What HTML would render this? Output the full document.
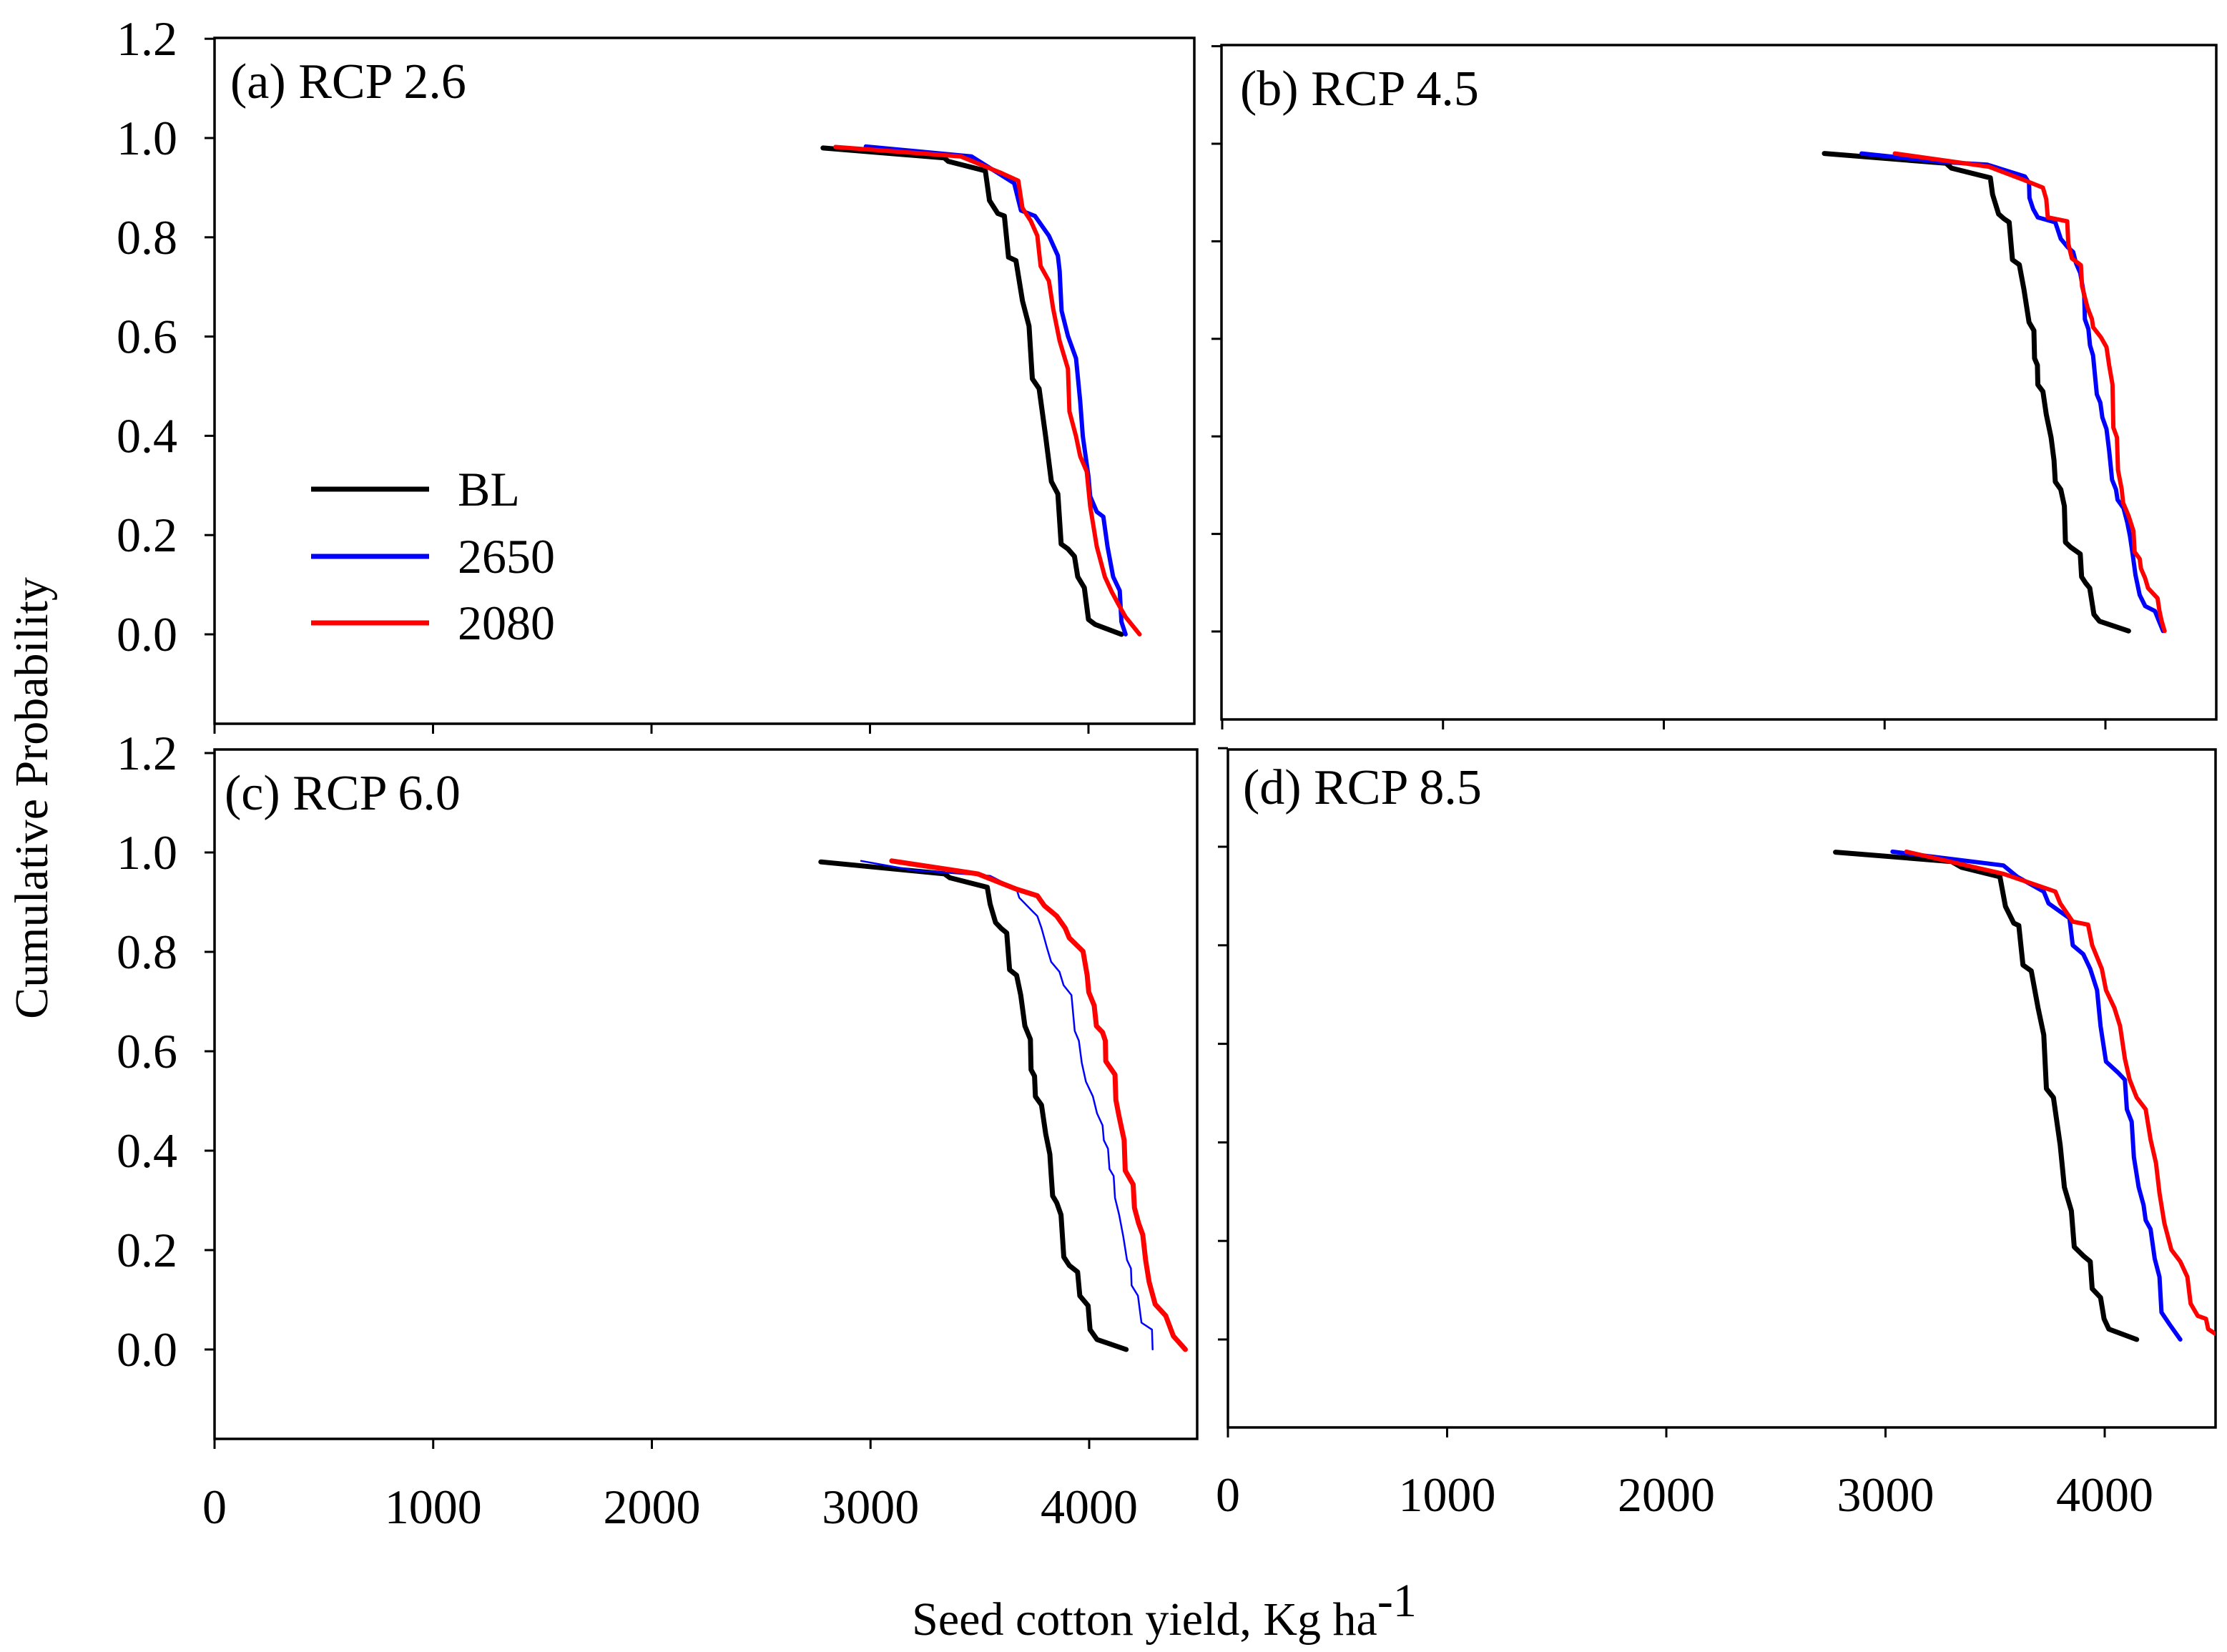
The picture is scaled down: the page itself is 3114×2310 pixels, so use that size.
<!DOCTYPE html>
<html><head><meta charset="utf-8"><style>
html,body{margin:0;padding:0;background:#fff;}
svg{display:block;font-family:"Liberation Serif",serif;}
</style></head><body>
<svg id="chart" width="3114" height="2310" viewBox="0 0 3114 2310" xmlns="http://www.w3.org/2000/svg">
<rect x="0" y="0" width="3114" height="2310" fill="#fff"/>
<text x="0" y="0" font-size="66" text-anchor="middle" transform="translate(66,1116) rotate(-90)">Cumulative Probability</text>
<text x="1628" y="2286" font-size="66" text-anchor="middle">Seed cotton yield, Kg ha<tspan dy="-26" font-size="66">-1</tspan></text>
</svg>
<script>
const yTicks = [0, 0.2, 0.4, 0.6, 0.8, 1.0, 1.2];
const yTickLabels = ["0.0","0.2","0.4","0.6","0.8","1.0","1.2"];
const xTicks = [0, 1000, 2000, 3000, 4000];
const xTickLabels = ["0","1000","2000","3000","4000"];
const seriesNames = ["BL","2650","2080"];

const aBLx = [2785,3340,3358,3528,3547,3585,3615,3634,3668,3698,3728,3743,3774,3804,3830,3860,3875,3906,3936,3951,3981,4000,4030,4151];
const aBLy = [0.98,0.96,0.953,0.934,0.874,0.848,0.843,0.76,0.753,0.672,0.621,0.515,0.495,0.399,0.308,0.283,0.182,0.172,0.157,0.116,0.094,0.03,0.02,0.0];
const a2650x = [2981,3464,3660,3691,3755,3819,3860,3868,3877,3906,3943,3962,3974,4000,4008,4038,4068,4087,4113,4143,4151,4170];
const a2650y = [0.983,0.963,0.909,0.854,0.843,0.803,0.763,0.732,0.652,0.601,0.556,0.47,0.399,0.318,0.278,0.247,0.237,0.177,0.116,0.088,0.025,0.0];
const a2080x = [2842,3415,3604,3679,3698,3736,3766,3781,3819,3838,3868,3906,3913,3943,3962,3992,4008,4038,4075,4106,4140,4170,4234];
const a2080y = [0.982,0.963,0.929,0.914,0.859,0.833,0.803,0.742,0.712,0.657,0.591,0.535,0.449,0.399,0.359,0.328,0.258,0.177,0.116,0.086,0.058,0.035,0.0];

const bBLx = [2727,3278,3303,3479,3489,3516,3541,3564,3579,3610,3631,3654,3676,3679,3692,3694,3717,3732,3754,3767,3773,3798,3814,3819,3842,3886,3892,3911,3929,3948,3973,4105];
const bBLy = [0.98,0.96,0.95,0.93,0.896,0.856,0.846,0.839,0.762,0.752,0.701,0.634,0.617,0.56,0.546,0.506,0.492,0.445,0.398,0.351,0.307,0.291,0.257,0.183,0.173,0.159,0.112,0.099,0.089,0.035,0.021,0.001];
const b2650x = [2896,3253,3466,3635,3654,3656,3673,3694,3773,3798,3829,3854,3867,3886,3904,3907,3923,3930,3944,3954,3961,3977,3986,4005,4017,4030,4048,4055,4082,4099,4111,4124,4136,4155,4180,4224,4243,4261];
const b2650y = [0.98,0.963,0.957,0.933,0.92,0.889,0.866,0.849,0.839,0.805,0.788,0.778,0.755,0.735,0.688,0.64,0.62,0.587,0.566,0.519,0.486,0.469,0.439,0.415,0.371,0.311,0.291,0.27,0.253,0.223,0.196,0.156,0.116,0.075,0.052,0.042,0.021,0.001];
const b2080x = [3046,3472,3629,3717,3732,3739,3827,3832,3848,3889,3894,3919,3939,3944,3980,4005,4017,4032,4036,4052,4057,4074,4080,4105,4127,4132,4155,4161,4180,4193,4236,4245,4255,4268];
const b2080y = [0.98,0.953,0.926,0.91,0.886,0.849,0.841,0.795,0.765,0.751,0.708,0.664,0.64,0.624,0.603,0.583,0.546,0.506,0.418,0.398,0.331,0.291,0.264,0.237,0.206,0.163,0.149,0.129,0.109,0.089,0.068,0.042,0.021,0.001];

const cBLx = [2773,3338,3363,3534,3547,3572,3598,3623,3636,3668,3687,3706,3731,3734,3750,3754,3782,3801,3820,3826,3833,3852,3871,3884,3909,3947,3957,3995,4004,4036,4169];
const cBLy = [0.981,0.957,0.949,0.93,0.896,0.859,0.847,0.838,0.764,0.753,0.713,0.651,0.624,0.563,0.55,0.509,0.492,0.434,0.393,0.353,0.309,0.295,0.271,0.186,0.169,0.156,0.108,0.088,0.04,0.02,0.0];
const c2650x = [2957,3198,3325,3547,3668,3680,3731,3763,3782,3807,3826,3864,3883,3919,3934,3953,3966,3985,4017,4036,4061,4067,4086,4093,4112,4118,4137,4156,4173,4191,4194,4223,4239,4287,4290];
const c2650y = [0.983,0.964,0.96,0.953,0.926,0.909,0.886,0.872,0.848,0.808,0.78,0.76,0.733,0.713,0.641,0.621,0.577,0.539,0.509,0.475,0.451,0.421,0.404,0.363,0.349,0.305,0.271,0.227,0.18,0.163,0.129,0.108,0.054,0.04,0.0];
const c2080x = [3097,3490,3668,3763,3795,3852,3890,3909,3972,3991,3998,4023,4033,4061,4074,4076,4118,4122,4137,4160,4165,4201,4207,4226,4245,4258,4274,4302,4350,4385,4440];
const c2080y = [0.983,0.957,0.926,0.913,0.893,0.872,0.848,0.828,0.801,0.753,0.719,0.692,0.651,0.638,0.621,0.58,0.553,0.502,0.468,0.421,0.36,0.332,0.285,0.254,0.231,0.18,0.136,0.091,0.068,0.027,0.0];

const dBLx = [2772,3301,3348,3522,3547,3585,3608,3627,3665,3696,3722,3734,3766,3797,3816,3848,3861,3902,3934,3943,3981,3997,4019,4146];
const dBLy = [0.989,0.97,0.958,0.939,0.879,0.845,0.84,0.76,0.748,0.673,0.618,0.509,0.491,0.394,0.309,0.261,0.188,0.17,0.158,0.103,0.085,0.042,0.021,0.0];
const d2650x = [3032,3538,3601,3722,3744,3839,3854,3902,3934,3965,3981,4006,4060,4092,4101,4123,4133,4155,4177,4187,4209,4228,4250,4259,4297,4345];
const d2650y = [0.99,0.962,0.939,0.909,0.885,0.855,0.8,0.782,0.752,0.709,0.636,0.564,0.542,0.527,0.467,0.442,0.37,0.309,0.273,0.242,0.224,0.164,0.127,0.055,0.03,0.0];
const d2080x = [3095,3538,3775,3797,3854,3924,3943,3987,4006,4044,4070,4092,4114,4146,4187,4209,4234,4250,4272,4304,4345,4377,4392,4424,4462,4472,4503];
const d2080y = [0.99,0.945,0.909,0.885,0.848,0.842,0.8,0.752,0.709,0.673,0.636,0.57,0.527,0.491,0.467,0.406,0.358,0.297,0.236,0.182,0.158,0.127,0.073,0.048,0.042,0.021,0.012];

const NS = "http://www.w3.org/2000/svg";
const svg = document.getElementById("chart");
const colors = ["#000000","#0000ff","#ff0000"];

const panels = [
  {id:"a", title:"(a) RCP 2.6", L:300, R:1670, T:53, B:1012, y1:193, y0:887, x0:300, x4:1522, tx:322, ty:137, yLab:true, xLab:false, xLabY:0,
   series:[[aBLx,aBLy,7],[a2650x,a2650y,6],[a2080x,a2080y,6]]},
  {id:"b", title:"(b) RCP 4.5", L:1708, R:3099, T:63, B:1006, y1:201, y0:883, x0:1709, x4:2944, tx:1734, ty:147, yLab:false, xLab:false, xLabY:0,
   series:[[bBLx,bBLy,7],[b2650x,b2650y,6],[b2080x,b2080y,6]]},
  {id:"c", title:"(c) RCP 6.0", L:300, R:1674, T:1048, B:2012, y1:1192, y0:1887, x0:300, x4:1523, tx:314, ty:1132, yLab:true, xLab:true, xLabY:2130,
   series:[[cBLx,cBLy,7],[c2650x,c2650y,2.5],[c2080x,c2080y,7]]},
  {id:"d", title:"(d) RCP 8.5", L:1717, R:3098, T:1048, B:1996, y1:1184, y0:1873, x0:1717, x4:2943, tx:1738, ty:1124, yLab:false, xLab:true, xLabY:2113,
   series:[[dBLx,dBLy,7],[d2650x,d2650y,6],[d2080x,d2080y,6]]}
];

function mk(tag, attrs){ const e=document.createElementNS(NS,tag); for(const k in attrs) e.setAttribute(k,attrs[k]); return e; }

panels.forEach(p=>{
  const g = mk("g",{});
  
  
  svg.appendChild(g);
  const sx = v => p.x0 + (p.x4-p.x0)*v/4000;
  const sy = v => p.y0 + (p.y1-p.y0)*v;
  const cp = mk("clipPath",{id:"clip-"+p.id});
  cp.appendChild(mk("rect",{x:p.L,y:p.T,width:p.R-p.L,height:p.B-p.T}));
  g.appendChild(cp);
  const frame = mk("rect",{x:p.L,y:p.T,width:p.R-p.L,height:p.B-p.T,fill:"none",stroke:"#000","stroke-width":3.5});
  
  
  g.appendChild(frame);
  yTicks.forEach((t,i)=>{
    const y = sy(t);
    if (y < p.T-2) return;
    const tk = mk("line",{x1:p.L-14,x2:p.L,y1:y,y2:y,stroke:"#000","stroke-width":3});
    
    
    g.appendChild(tk);
    if (p.yLab){
      const tl = mk("text",{x:p.L-52,y:y+23,"font-size":68,"text-anchor":"end"});
      tl.textContent = yTickLabels[i];
      
      
      g.appendChild(tl);
    }
  });
  xTicks.forEach((t,i)=>{
    const x = sx(t);
    const tk = mk("line",{x1:x,x2:x,y1:p.B,y2:p.B+14,stroke:"#000","stroke-width":3});
    
    
    g.appendChild(tk);
    if (p.xLab){
      const tl = mk("text",{x:x,y:p.xLabY,"font-size":68,"text-anchor":"middle"});
      tl.textContent = xTickLabels[i];
      
      
      g.appendChild(tl);
    }
  });
  const title = mk("text",{x:p.tx,y:p.ty,"font-size":70});
  title.textContent = p.title;
  
  
  g.appendChild(title);
  p.series.forEach((s,si)=>{
    const xs=s[0], ys=s[1];
    let d="";
    for(let i=0;i<xs.length;i++) d += (i?"L":"M")+sx(xs[i]).toFixed(1)+","+sy(ys[i]).toFixed(1);
    const path = mk("path",{d:d,fill:"none",stroke:colors[si],"stroke-width":s[2],"stroke-linejoin":"round","stroke-linecap":"round","clip-path":"url(#clip-"+p.id+")"});
    
    
    g.appendChild(path);
  });
});

const lg = mk("g",{});


svg.appendChild(lg);
const legendY = [684, 778, 871];
seriesNames.forEach((n,i)=>{
  const ln = mk("line",{x1:435,x2:600,y1:legendY[i],y2:legendY[i],stroke:colors[i],"stroke-width":7});
  
  
  lg.appendChild(ln);
  const tx = mk("text",{x:640,y:legendY[i]+23,"font-size":68});
  tx.textContent = n;
  
  
  lg.appendChild(tx);
});
</script>
</body></html>
